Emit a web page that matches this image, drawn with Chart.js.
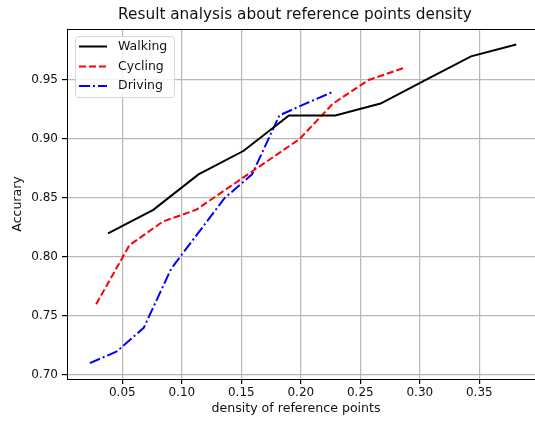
<!DOCTYPE html>
<html>
<head>
<meta charset="utf-8">
<script src="https://cdn.jsdelivr.net/npm/chart.js@4"></script>
<style>
  html, body { margin: 0; padding: 0; background: #fff; overflow: hidden; }
  #wrap { position: absolute; left: 0; top: 0; width: 540px; height: 421px; }
</style>
</head>
<body>
<div id="wrap"><canvas id="c" width="540" height="421"></canvas></div>
<script>
const titleText = "Result analysis about reference points density";
const xLabel = "density of reference points";
const yLabel = "Accurary";
const seriesNames = ["Walking", "Cycling", "Driving"];

const xTicks = [0.05, 0.10, 0.15, 0.20, 0.25, 0.30, 0.35];
const yTicks = [0.70, 0.75, 0.80, 0.85, 0.90, 0.95];

const walkingX = [0.038, 0.076, 0.114, 0.152, 0.190, 0.229, 0.267, 0.305, 0.343, 0.381];
const walkingY = [0.82, 0.84, 0.87, 0.89, 0.92, 0.92, 0.93, 0.95, 0.97, 0.98];

const cyclingX = [0.028, 0.056, 0.084, 0.112, 0.141, 0.170, 0.199, 0.227, 0.257, 0.286];
const cyclingY = [0.76, 0.81, 0.83, 0.84, 0.86, 0.88, 0.90, 0.93, 0.95, 0.96];

const drivingX = [0.0227, 0.0454, 0.068, 0.091, 0.1135, 0.136, 0.159, 0.182, 0.204, 0.227];
const drivingY = [0.71, 0.72, 0.74, 0.79, 0.82, 0.85, 0.87, 0.92, 0.93, 0.94];

const pts = (xs, ys) => xs.map((x, i) => ({ x: x, y: ys[i] }));

const FONT = "DejaVu Sans";

const framePlugin = {
  id: 'frame',
  afterDraw(chart) {
    const { ctx, chartArea: a } = chart;
    ctx.save();
    ctx.strokeStyle = '#000';
    ctx.lineWidth = 1;
    ctx.strokeRect(Math.round(a.left) + 0.5, Math.round(a.top) + 0.5,
                   Math.round(a.right - a.left), Math.round(a.bottom - a.top));
    ctx.fillStyle = '#111';
    ctx.textAlign = 'center';
    ctx.textBaseline = 'middle';
    ctx.font = '15.3px "' + FONT + '"';
    ctx.fillText(titleText, 295, 15);
    ctx.font = '12.6px "' + FONT + '"';
    ctx.fillText(xLabel, 296, 409);
    const bx = 75.5, by = 36.5, bw = 99, bh = 61;
    ctx.beginPath();
    ctx.roundRect(bx, by, bw, bh, 3);
    ctx.fillStyle = 'rgba(255,255,255,0.8)';
    ctx.fill();
    ctx.strokeStyle = '#d6d6d6';
    ctx.lineWidth = 1;
    ctx.stroke();
    const rows = [46.5, 66.5, 86];
    chart.data.datasets.forEach((ds, i) => {
      const y = rows[i];
      ctx.beginPath();
      ctx.setLineDash(ds.borderDash || []);
      ctx.strokeStyle = ds.borderColor;
      ctx.lineWidth = ds.borderWidth;
      ctx.moveTo(79, y);
      ctx.lineTo(107, y);
      ctx.stroke();
      ctx.setLineDash([]);
      ctx.fillStyle = '#111';
      ctx.textAlign = 'left';
      ctx.textBaseline = 'middle';
      ctx.font = '12.5px "' + FONT + '"';
      ctx.fillText(ds.label, 118, y);
    });
    ctx.restore();
  }
};

new Chart(document.getElementById('c'), {
  type: 'line',
  data: {
    datasets: [
      { label: seriesNames[0], data: pts(walkingX, walkingY), borderColor: '#000000',
        borderWidth: 2, borderDash: [], pointRadius: 0, tension: 0, fill: false },
      { label: seriesNames[1], data: pts(cyclingX, cyclingY), borderColor: '#ff0000',
        borderWidth: 2, borderDash: [7, 3], pointRadius: 0, tension: 0, fill: false },
      { label: seriesNames[2], data: pts(drivingX, drivingY), borderColor: '#0000ff',
        borderWidth: 2, borderDash: [11, 3, 2, 3], pointRadius: 0, tension: 0, fill: false }
    ]
  },
  options: {
    responsive: false,
    animation: false,
    devicePixelRatio: 1,
    layout: { padding: { top: 29, right: 2, left: 0, bottom: 0 } },
    plugins: { legend: { display: false }, title: { display: false }, tooltip: { enabled: false } },
    scales: {
      x: {
        type: 'linear',
        min: 0.0035,
        max: 0.3993,
        afterBuildTicks: s => { s.ticks = xTicks.map(v => ({ value: v })); },
        afterFit: s => { s.height = 42; },
        ticks: {
          callback: v => Number(v).toFixed(2),
          font: { family: FONT, size: 12 },
          color: '#111',
          padding: 2,
          maxRotation: 0,
          autoSkip: false
        },
        grid: { color: '#b8b8b8', lineWidth: 1.2, tickColor: '#000', tickLength: 5, drawOnChartArea: true },
        border: { display: true, color: '#000', width: 1 }
      },
      y: {
        type: 'linear',
        min: 0.6966,
        max: 0.9932,
        afterBuildTicks: s => { s.ticks = yTicks.map(v => ({ value: v })); },
        afterFit: s => { s.width = 67; },
        ticks: {
          callback: v => Number(v).toFixed(2),
          font: { family: FONT, size: 12 },
          color: '#111',
          padding: 4,
          autoSkip: false
        },
        title: {
          display: true,
          text: yLabel,
          font: { family: FONT, size: 12.5 },
          color: '#111',
          padding: { top: 10, bottom: 0 }
        },
        grid: { color: '#b8b8b8', lineWidth: 1.2, tickColor: '#000', tickLength: 5, drawOnChartArea: true },
        border: { display: true, color: '#000', width: 1 }
      }
    }
  },
  plugins: [framePlugin]
});
</script>
</body>
</html>
